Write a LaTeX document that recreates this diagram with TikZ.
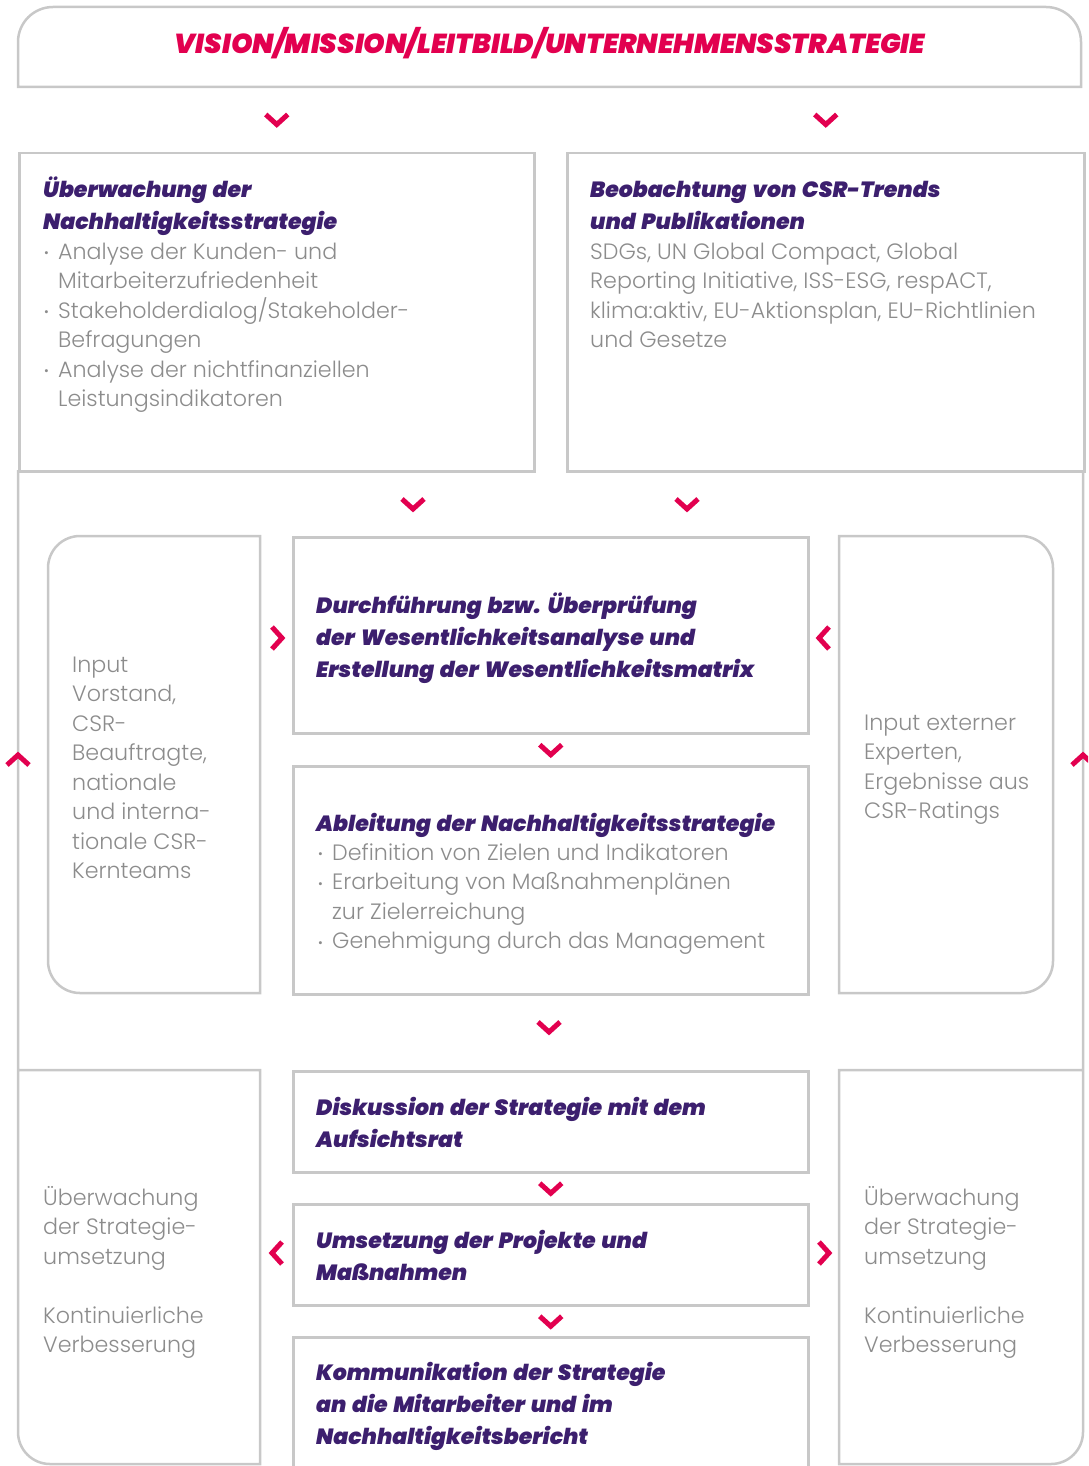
\documentclass[tikz,border=0pt]{standalone}
\usepackage{fontspec}
\setmainfont{Poppins}
\newfontfamily\tfont{Poppins Black Italic}[WordSpace=1.5]
\newfontfamily\lfont{Poppins Light}
\usetikzlibrary{calc}
\definecolor{crim}{HTML}{E2004F}
\definecolor{purp}{HTML}{3C1F6E}
\definecolor{gtext}{HTML}{8C8C8C}
\definecolor{linec}{HTML}{C8C8C8}
\newcommand\bul{{\fontsize{13}{13}\selectfont\raisebox{1.5pt}{•}}}
\tikzset{
  frame/.style={draw=linec, line width=2.5pt},
  box/.style={frame, inner sep=0pt, anchor=north west},
  ttl/.style={font={\tfont\fontsize{22}{32}\selectfont}, text=purp, inner sep=0pt, anchor=base west},
  bdy/.style={font={\lfont\fontsize{22.2}{29.5}\selectfont}, text=gtext, inner sep=0pt, anchor=base west},
  chev/.style={draw=crim, line width=5pt, miter limit=10},
  chevD/.pic={\draw[chev] (-11,5) -- (0,-5) -- (11,5);},
  chevU/.pic={\draw[chev] (-11,-5) -- (0,5) -- (11,-5);},
  chevR/.pic={\draw[chev] (-5,11) -- (5,0) -- (-5,-11);},
  chevL/.pic={\draw[chev] (5,11) -- (-5,0) -- (5,-11);}
}
\begin{document}
\begin{tikzpicture}[x=1pt,y=1pt]
\useasboundingbox (0,0) rectangle (1088,-1466);
\clip (0,0) rectangle (1088,-1466);
% top box
\draw[frame] (18,-87) -- (18,-42) arc[start angle=180,end angle=90,radius=35] -- (1046,-7) arc[start angle=90,end angle=0,radius=35] -- (1081,-87) -- cycle;
\node[font={\tfont\fontsize{27.4}{30}\selectfont}, text=crim, inner sep=0pt, anchor=base] (vt) at (550,-54) {VISION/MISSION/LEITBILD/UNTERNEHMENSSTRATEGIE};
\coordinate (vision) at (549,-87);
% row 1 boxes
\node[box, minimum width=515, minimum height=318] (b1) at (18,-152) {};
\node[box, minimum width=517, minimum height=318] (b2) at (566,-152) {};
% outer side frames
\draw[frame] (18,-470) -- (18,-1432) arc[start angle=180,end angle=270,radius=32] -- (260,-1464) -- (260,-1070) -- (18,-1070);
\draw[frame] (1083,-470) -- (1083,-1432) arc[start angle=0,end angle=-90,radius=32] -- (839,-1464) -- (839,-1070) -- (1083,-1070);
% middle rounded boxes
\draw[frame] (260,-536) -- (80,-536) arc[start angle=90,end angle=180,radius=32] -- (48,-961) arc[start angle=180,end angle=270,radius=32] -- (260,-993) -- cycle;
\draw[frame] (839,-536) -- (1021,-536) arc[start angle=90,end angle=0,radius=32] -- (1053,-961) arc[start angle=0,end angle=-90,radius=32] -- (839,-993) -- cycle;
% centre boxes
\node[box, minimum width=515, minimum height=196] (durch) at (292,-536) {};
\node[box, minimum width=515, minimum height=228] (ableit) at (292,-765) {};
\node[box, minimum width=515, minimum height=101] (disk) at (292,-1070) {};
\node[box, minimum width=515, minimum height=101] (umset) at (292,-1203) {};
\node[box, minimum width=515, minimum height=160] (komm) at (292,-1336) {};
% texts
\node[ttl] (t1) at (43,-197) {\begin{tabular}[t]{@{}l@{}}Überwachung der\\Nachhaltigkeitsstrategie\end{tabular}};
\node[bdy] (x1) at (44,-259) {\begin{tabular}[t]{@{}p{14pt}@{}l@{}}\bul&Analyse der Kunden- und\\&Mitarbeiterzufriedenheit\\\bul&Stakeholderdialog/Stakeholder-\\&Befragungen\\\bul&Analyse der nichtfinanziellen\\&Leistungsindikatoren\end{tabular}};
\node[ttl] (t2) at (590,-197) {\begin{tabular}[t]{@{}l@{}}Beobachtung von CSR-Trends\\und Publikationen\end{tabular}};
\node[bdy] (x2) at (590,-259) {\begin{tabular}[t]{@{}l@{}}SDGs, UN Global Compact, Global\\Reporting Initiative, ISS-ESG, respACT,\\klima:aktiv, EU-Aktionsplan, EU-Richtlinien\\und Gesetze\end{tabular}};
\node[bdy] (x3) at (72,-672) {\begin{tabular}[t]{@{}l@{}}Input\\Vorstand,\\CSR-\\Beauftragte,\\nationale\\und interna-\\tionale CSR-\\Kernteams\end{tabular}};
\node[ttl] (t3) at (316,-613) {\begin{tabular}[t]{@{}l@{}}Durchführung bzw. Überprüfung\\der Wesentlichkeitsanalyse und\\Erstellung der Wesentlichkeitsmatrix\end{tabular}};
\node[bdy] (x4) at (864,-730) {\begin{tabular}[t]{@{}l@{}}Input externer\\Experten,\\Ergebnisse aus\\CSR-Ratings\end{tabular}};
\node[ttl] (t4) at (316,-831) {Ableitung der Nachhaltigkeitsstrategie};
\node[bdy] (x5) at (318,-860) {\begin{tabular}[t]{@{}p{14pt}@{}l@{}}\bul&Definition von Zielen und Indikatoren\\\bul&Erarbeitung von Maßnahmenplänen\\&zur Zielerreichung\\\bul&Genehmigung durch das Management\end{tabular}};
\node[bdy] (x6) at (43,-1205) {\begin{tabular}[t]{@{}l@{}}Überwachung\\der Strategie-\\umsetzung\\ \\Kontinuierliche\\Verbesserung\end{tabular}};
\node[bdy] (x7) at (864,-1205) {\begin{tabular}[t]{@{}l@{}}Überwachung\\der Strategie-\\umsetzung\\ \\Kontinuierliche\\Verbesserung\end{tabular}};
\node[ttl] (t5) at (316,-1115) {\begin{tabular}[t]{@{}l@{}}Diskussion der Strategie mit dem\\Aufsichtsrat\end{tabular}};
\node[ttl] (t6) at (316,-1248) {\begin{tabular}[t]{@{}l@{}}Umsetzung der Projekte und\\Maßnahmen\end{tabular}};
\node[ttl] (t7) at (316,-1380) {\begin{tabular}[t]{@{}l@{}}Kommunikation der Strategie\\an die Mitarbeiter und im\\Nachhaltigkeitsbericht\end{tabular}};
% chevrons
\pic at ($(vision -| b1.north)!0.5!(b1.north)$) {chevD};
\pic at ($(vision -| b2.north)!0.5!(b2.north)$) {chevD};
\pic at (413,-504) {chevD};
\pic at (687,-504) {chevD};
\pic at (277,-638) {chevR};
\pic at (824,-638) {chevL};
\pic at ($(durch.south)!0.5!(ableit.north)$) {chevD};
\pic at (18,-760) {chevU};
\pic at (1083,-760) {chevU};
\pic at (549,-1027) {chevD};
\pic at ($(disk.south)!0.5!(umset.north)$) {chevD};
\pic at (277,-1253) {chevL};
\pic at (824,-1253) {chevR};
\pic at ($(umset.south)!0.5!(komm.north)$) {chevD};
\end{tikzpicture}
\end{document}
